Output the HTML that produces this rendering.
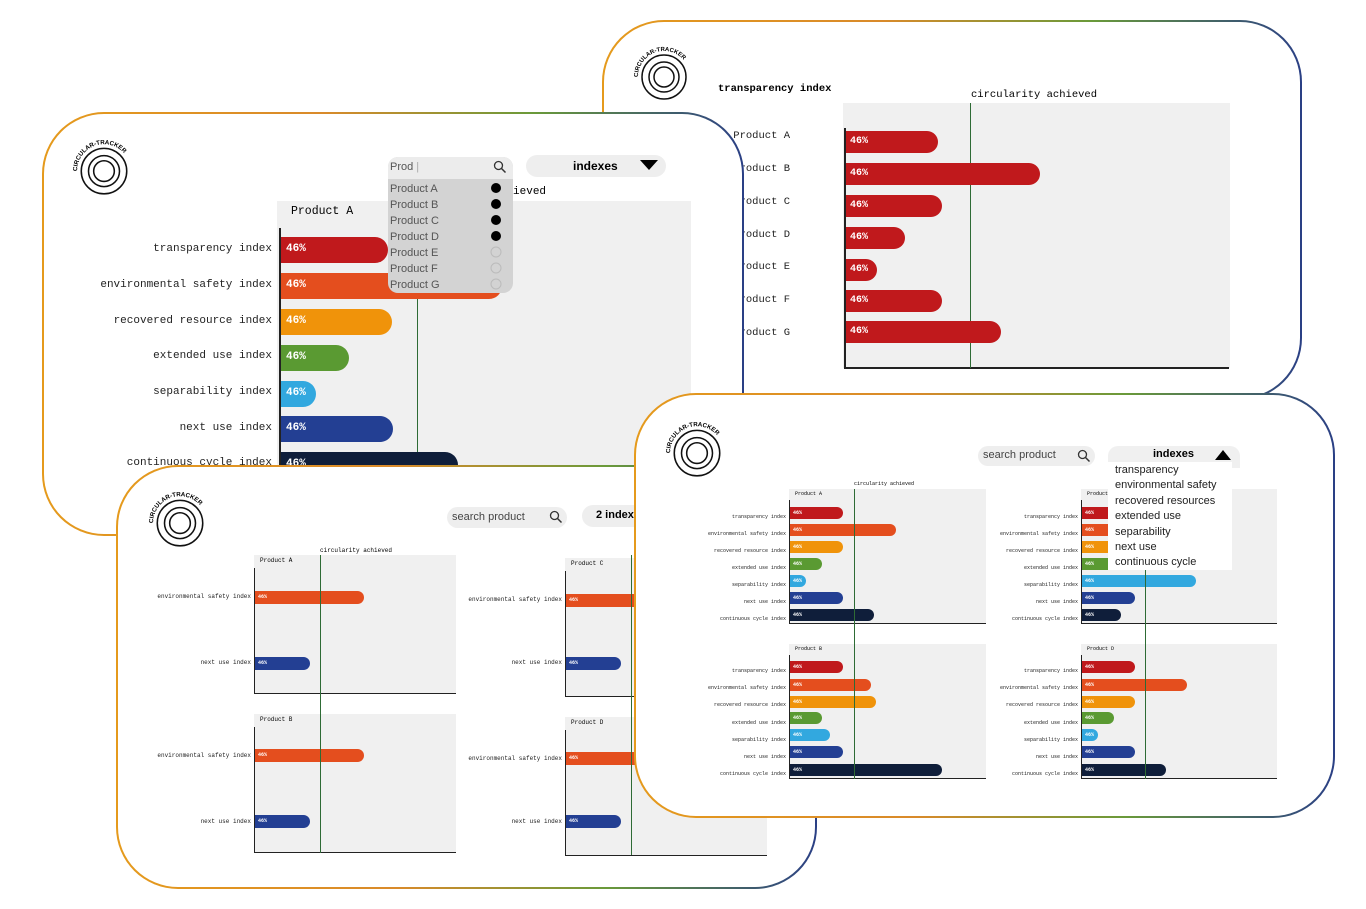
<!DOCTYPE html>
<html><head><meta charset="utf-8"><style>
body{margin:0;width:1366px;height:909px;background:#fff;position:relative;overflow:hidden;font-family:"Liberation Mono",monospace}
div,span,svg{position:absolute;box-sizing:border-box}
.card{border:2px solid transparent;border-radius:62px;background:linear-gradient(#fff,#fff) padding-box,linear-gradient(90deg,#e59a1c,#d98a2a 40%,#6a9a3a 70%,#2a3f85) border-box}
.pbg{background:#f0f0f0}
.b{color:#fff;font-weight:bold;white-space:nowrap}
.l{text-align:right;white-space:nowrap;color:#222}
.ax{background:#222}
.g{background:#2e6b35;width:1px}
.red{background:#c0191c}.org{background:#e44e1e}.amb{background:#f0930a}.grn{background:#5a9a32}.lb{background:#32a8df}.blu{background:#233f93}.nav{background:#0f1e3a}
.sans{font-family:"Liberation Sans",sans-serif}
</style></head><body>

<!-- CARD 1 top right -->
<div class="card" style="left:602px;top:20px;width:700px;height:380px"></div>
<svg style="left:634px;top:44px" width="60" height="60" viewBox="0 0 60 60"><defs><path id="a1" d="M4,33 A26,26 0 0 1 56,33"/></defs><circle cx="30" cy="33" r="22" fill="none" stroke="#111" stroke-width="1.5"/><circle cx="30" cy="33" r="15" fill="none" stroke="#111" stroke-width="1.5"/><circle cx="30" cy="33" r="10" fill="none" stroke="#111" stroke-width="1.5"/><text font-size="6" font-weight="bold" font-family="Liberation Sans"><textPath href="#a1">CIRCULAR-TRACKER</textPath></text></svg>
<div style="left:718px;top:83px;font-size:10.5px;font-weight:bold">transparency index</div>
<div style="left:971px;top:89px;font-size:10.5px">circularity achieved</div>
<div class="pbg" style="left:843px;top:103px;width:387px;height:265px"></div>
<div class="ax" style="left:844px;top:128px;width:2px;height:241px"></div>
<div class="ax" style="left:844px;top:367px;width:385px;height:2px"></div>
<div class="g" style="left:970px;top:103px;height:265px"></div>
<div class="l" style="left:700px;top:130px;width:90px;font-size:10.5px">Product A</div>
<div class="l" style="left:700px;top:163px;width:90px;font-size:10.5px">Product B</div>
<div class="l" style="left:700px;top:196px;width:90px;font-size:10.5px">Product C</div>
<div class="l" style="left:700px;top:229px;width:90px;font-size:10.5px">Product D</div>
<div class="l" style="left:700px;top:261px;width:90px;font-size:10.5px">Product E</div>
<div class="l" style="left:700px;top:294px;width:90px;font-size:10.5px">Product F</div>
<div class="l" style="left:700px;top:327px;width:90px;font-size:10.5px">Product G</div>
<div class="b red" style="left:846px;top:131px;width:92px;height:22px;border-radius:0 11px 11px 0;font-size:10px;padding:5px 4px">46%</div>
<div class="b red" style="left:846px;top:163px;width:194px;height:22px;border-radius:0 11px 11px 0;font-size:10px;padding:5px 4px">46%</div>
<div class="b red" style="left:846px;top:195px;width:96px;height:22px;border-radius:0 11px 11px 0;font-size:10px;padding:5px 4px">46%</div>
<div class="b red" style="left:846px;top:227px;width:59px;height:22px;border-radius:0 11px 11px 0;font-size:10px;padding:5px 4px">46%</div>
<div class="b red" style="left:846px;top:259px;width:31px;height:22px;border-radius:0 11px 11px 0;font-size:10px;padding:5px 4px">46%</div>
<div class="b red" style="left:846px;top:290px;width:96px;height:22px;border-radius:0 11px 11px 0;font-size:10px;padding:5px 4px">46%</div>
<div class="b red" style="left:846px;top:321px;width:155px;height:22px;border-radius:0 11px 11px 0;font-size:10px;padding:5px 4px">46%</div>

<!-- CARD 2 left -->
<div class="card" style="left:42px;top:112px;width:702px;height:424px"></div>
<svg style="left:73px;top:137px" width="62" height="62" viewBox="0 0 60 60"><defs><path id="a2" d="M4,33 A26,26 0 0 1 56,33"/></defs><circle cx="30" cy="33" r="22" fill="none" stroke="#111" stroke-width="1.5"/><circle cx="30" cy="33" r="15" fill="none" stroke="#111" stroke-width="1.5"/><circle cx="30" cy="33" r="10" fill="none" stroke="#111" stroke-width="1.5"/><text font-size="6" font-weight="bold" font-family="Liberation Sans"><textPath href="#a2">CIRCULAR-TRACKER</textPath></text></svg>
<div class="pbg" style="left:277px;top:201px;width:414px;height:264px"></div>
<div style="left:291px;top:205px;font-size:11.5px">Product A</div>
<div style="left:414px;top:186px;font-size:11px">circularity achieved</div>
<div class="ax" style="left:279px;top:228px;width:2px;height:240px"></div>
<div class="g" style="left:417px;top:290px;height:178px"></div>
<div class="l" style="left:60px;top:243px;width:212px;font-size:11px">transparency index</div>
<div class="l" style="left:60px;top:279px;width:212px;font-size:11px">environmental safety index</div>
<div class="l" style="left:60px;top:315px;width:212px;font-size:11px">recovered resource index</div>
<div class="l" style="left:60px;top:350px;width:212px;font-size:11px">extended use index</div>
<div class="l" style="left:60px;top:386px;width:212px;font-size:11px">separability index</div>
<div class="l" style="left:60px;top:422px;width:212px;font-size:11px">next use index</div>
<div class="l" style="left:60px;top:457px;width:212px;font-size:11px">continuous cycle index</div>
<div class="b red" style="left:281px;top:237px;width:107px;height:26px;border-radius:0 13px 13px 0;font-size:11px;padding:6px 5px">46%</div>
<div class="b org" style="left:281px;top:273px;width:221px;height:26px;border-radius:0 13px 13px 0;font-size:11px;padding:6px 5px">46%</div>
<div class="b amb" style="left:281px;top:309px;width:111px;height:26px;border-radius:0 13px 13px 0;font-size:11px;padding:6px 5px">46%</div>
<div class="b grn" style="left:281px;top:345px;width:68px;height:26px;border-radius:0 13px 13px 0;font-size:11px;padding:6px 5px">46%</div>
<div class="b lb" style="left:281px;top:381px;width:35px;height:26px;border-radius:0 13px 13px 0;font-size:11px;padding:6px 5px">46%</div>
<div class="b blu" style="left:281px;top:416px;width:112px;height:26px;border-radius:0 13px 13px 0;font-size:11px;padding:6px 5px">46%</div>
<div class="b nav" style="left:281px;top:452px;width:177px;height:26px;border-radius:0 13px 13px 0;font-size:11px;padding:6px 5px">46%</div>
<!-- dropdown -->
<div class="sans" style="left:388px;top:157px;width:125px;height:136px;background:#d3d3d3;border-radius:10px;font-size:11px;color:#555"></div>
<div class="sans" style="left:388px;top:157px;width:125px;height:22px;background:#ececec;border-radius:10px 10px 0 0;font-size:11px;color:#555;padding:4px 2px">Prod <span style="position:static;color:#aaa">|</span></div>
<svg style="left:493px;top:160px" width="14" height="14"><circle cx="5.5" cy="5.5" r="4" fill="none" stroke="#333" stroke-width="1.3"/><line x1="8.5" y1="8.5" x2="12.5" y2="12.5" stroke="#333" stroke-width="1.5"/></svg>
<div class="sans" style="left:390px;top:181px;font-size:11px;color:#555;line-height:16px">Product A<br>Product B<br>Product C<br>Product D<br>Product E<br>Product F<br>Product G</div>
<svg style="left:489px;top:181px" width="14" height="112"><circle cx="7" cy="7" r="5" fill="#000"/><circle cx="7" cy="23" r="5" fill="#000"/><circle cx="7" cy="39" r="5" fill="#000"/><circle cx="7" cy="55" r="5" fill="#000"/><circle cx="7" cy="71" r="5" fill="none" stroke="#bbb"/><circle cx="7" cy="87" r="5" fill="none" stroke="#bbb"/><circle cx="7" cy="103" r="5" fill="none" stroke="#bbb"/></svg>
<div class="sans" style="left:526px;top:155px;width:140px;height:22px;background:#eee;border-radius:11px;font-size:12px;font-weight:bold;padding:4px 0 0 47px">indexes</div>
<svg style="left:640px;top:160px" width="18" height="12"><polygon points="0,0 18,0 9,10" fill="#000"/></svg>

<!-- CARD 3 bottom left -->
<div class="card" style="left:116px;top:465px;width:701px;height:424px"></div>
<svg style="left:149px;top:489px" width="62" height="62" viewBox="0 0 60 60"><defs><path id="a3" d="M4,33 A26,26 0 0 1 56,33"/></defs><circle cx="30" cy="33" r="22" fill="none" stroke="#111" stroke-width="1.5"/><circle cx="30" cy="33" r="15" fill="none" stroke="#111" stroke-width="1.5"/><circle cx="30" cy="33" r="10" fill="none" stroke="#111" stroke-width="1.5"/><text font-size="6" font-weight="bold" font-family="Liberation Sans"><textPath href="#a3">CIRCULAR-TRACKER</textPath></text></svg>
<div class="sans" style="left:447px;top:507px;width:120px;height:21px;background:#eee;border-radius:11px;font-size:11px;color:#444;padding:4px 0 0 5px">search product</div>
<svg style="left:549px;top:510px" width="14" height="14"><circle cx="5.5" cy="5.5" r="4" fill="none" stroke="#333" stroke-width="1.3"/><line x1="8.5" y1="8.5" x2="12.5" y2="12.5" stroke="#333" stroke-width="1.5"/></svg>
<div class="sans" style="left:582px;top:505px;width:120px;height:22px;background:#eee;border-radius:11px;font-size:11px;font-weight:bold;padding:4px 0 0 14px">2 indexes</div>
<div style="left:320px;top:547px;font-size:6px">circularity achieved</div>
<!-- A -->
<div class="pbg" style="left:254px;top:555px;width:202px;height:138px"></div>
<div style="left:260px;top:557px;font-size:6px">Product A</div>
<div class="ax" style="left:254px;top:568px;width:1px;height:126px"></div>
<div class="ax" style="left:254px;top:693px;width:202px;height:1px"></div>
<div class="l" style="left:130px;top:593px;width:121px;font-size:6px">environmental safety index</div>
<div class="l" style="left:130px;top:659px;width:121px;font-size:6px">next use index</div>
<div class="b org" style="left:255px;top:591px;width:109px;height:13px;border-radius:0 7px 7px 0;font-size:5px;padding:3px 3px">46%</div>
<div class="b blu" style="left:255px;top:657px;width:55px;height:13px;border-radius:0 7px 7px 0;font-size:5px;padding:3px 3px">46%</div>
<!-- B -->
<div class="pbg" style="left:254px;top:714px;width:202px;height:138px"></div>
<div style="left:260px;top:716px;font-size:6px">Product B</div>
<div class="ax" style="left:254px;top:727px;width:1px;height:126px"></div>
<div class="ax" style="left:254px;top:852px;width:202px;height:1px"></div>
<div class="l" style="left:130px;top:752px;width:121px;font-size:6px">environmental safety index</div>
<div class="l" style="left:130px;top:818px;width:121px;font-size:6px">next use index</div>
<div class="b org" style="left:255px;top:749px;width:109px;height:13px;border-radius:0 7px 7px 0;font-size:5px;padding:3px 3px">46%</div>
<div class="b blu" style="left:255px;top:815px;width:55px;height:13px;border-radius:0 7px 7px 0;font-size:5px;padding:3px 3px">46%</div>
<div class="g" style="left:320px;top:555px;height:298px"></div>
<!-- C -->
<div class="pbg" style="left:565px;top:558px;width:202px;height:138px"></div>
<div style="left:571px;top:560px;font-size:6px">Product C</div>
<div class="ax" style="left:565px;top:571px;width:1px;height:126px"></div>
<div class="ax" style="left:565px;top:696px;width:202px;height:1px"></div>
<div class="l" style="left:440px;top:596px;width:122px;font-size:6px">environmental safety index</div>
<div class="l" style="left:440px;top:659px;width:122px;font-size:6px">next use index</div>
<div class="b org" style="left:566px;top:594px;width:109px;height:13px;border-radius:0 7px 7px 0;font-size:5px;padding:3px 3px">46%</div>
<div class="b blu" style="left:566px;top:657px;width:55px;height:13px;border-radius:0 7px 7px 0;font-size:5px;padding:3px 3px">46%</div>
<!-- D -->
<div class="pbg" style="left:565px;top:717px;width:202px;height:138px"></div>
<div style="left:571px;top:719px;font-size:6px">Product D</div>
<div class="ax" style="left:565px;top:730px;width:1px;height:126px"></div>
<div class="ax" style="left:565px;top:855px;width:202px;height:1px"></div>
<div class="l" style="left:440px;top:755px;width:122px;font-size:6px">environmental safety index</div>
<div class="l" style="left:440px;top:818px;width:122px;font-size:6px">next use index</div>
<div class="b org" style="left:566px;top:752px;width:109px;height:13px;border-radius:0 7px 7px 0;font-size:5px;padding:3px 3px">46%</div>
<div class="b blu" style="left:566px;top:815px;width:55px;height:13px;border-radius:0 7px 7px 0;font-size:5px;padding:3px 3px">46%</div>
<div class="g" style="left:631px;top:555px;height:300px"></div>

<!-- CARD 4 front right -->
<div class="card" style="left:634px;top:393px;width:701px;height:425px"></div>
<svg style="left:666px;top:419px" width="62" height="62" viewBox="0 0 60 60"><defs><path id="a4" d="M4,33 A26,26 0 0 1 56,33"/></defs><circle cx="30" cy="33" r="22" fill="none" stroke="#111" stroke-width="1.5"/><circle cx="30" cy="33" r="15" fill="none" stroke="#111" stroke-width="1.5"/><circle cx="30" cy="33" r="10" fill="none" stroke="#111" stroke-width="1.5"/><text font-size="6" font-weight="bold" font-family="Liberation Sans"><textPath href="#a4">CIRCULAR-TRACKER</textPath></text></svg>
<div class="sans" style="left:978px;top:446px;width:117px;height:20px;background:#eee;border-radius:10px;font-size:11px;color:#444;padding:3px 0 0 5px">search product</div>
<svg style="left:1077px;top:449px" width="14" height="14"><circle cx="5.5" cy="5.5" r="4" fill="none" stroke="#333" stroke-width="1.3"/><line x1="8.5" y1="8.5" x2="12.5" y2="12.5" stroke="#333" stroke-width="1.5"/></svg>
<div style="left:854px;top:481px;font-size:5px">circularity achieved</div>
<!-- plot A -->
<div class="pbg" style="left:789px;top:489px;width:197px;height:135px"></div>
<div style="left:795px;top:491px;font-size:5px">Product A</div>
<div class="ax" style="left:789px;top:500px;width:1px;height:124px"></div>
<div class="ax" style="left:789px;top:623px;width:197px;height:1px"></div>
<div class="l" style="left:660px;top:509px;width:126px;font-size:5px;line-height:17px">transparency index<br>environmental safety index<br>recovered resource index<br>extended use index<br>separability index<br>next use index<br>continuous cycle index</div>
<div class="b red" style="left:790px;top:507px;width:53px;height:12px;border-radius:0 6px 6px 0;font-size:5px;padding:3px 3px">46%</div>
<div class="b org" style="left:790px;top:524px;width:106px;height:12px;border-radius:0 6px 6px 0;font-size:5px;padding:3px 3px">46%</div>
<div class="b amb" style="left:790px;top:541px;width:53px;height:12px;border-radius:0 6px 6px 0;font-size:5px;padding:3px 3px">46%</div>
<div class="b grn" style="left:790px;top:558px;width:32px;height:12px;border-radius:0 6px 6px 0;font-size:5px;padding:3px 3px">46%</div>
<div class="b lb" style="left:790px;top:575px;width:16px;height:12px;border-radius:0 6px 6px 0;font-size:5px;padding:3px 3px">46%</div>
<div class="b blu" style="left:790px;top:592px;width:53px;height:12px;border-radius:0 6px 6px 0;font-size:5px;padding:3px 3px">46%</div>
<div class="b nav" style="left:790px;top:609px;width:84px;height:12px;border-radius:0 6px 6px 0;font-size:5px;padding:3px 3px">46%</div>
<!-- plot B -->
<div class="pbg" style="left:789px;top:644px;width:197px;height:135px"></div>
<div style="left:795px;top:646px;font-size:5px">Product B</div>
<div class="ax" style="left:789px;top:655px;width:1px;height:124px"></div>
<div class="ax" style="left:789px;top:778px;width:197px;height:1px"></div>
<div class="l" style="left:660px;top:663px;width:126px;font-size:5px;line-height:17.2px">transparency index<br>environmental safety index<br>recovered resource index<br>extended use index<br>separability index<br>next use index<br>continuous cycle index</div>
<div class="b red" style="left:790px;top:661px;width:53px;height:12px;border-radius:0 6px 6px 0;font-size:5px;padding:3px 3px">46%</div>
<div class="b org" style="left:790px;top:679px;width:81px;height:12px;border-radius:0 6px 6px 0;font-size:5px;padding:3px 3px">46%</div>
<div class="b amb" style="left:790px;top:696px;width:86px;height:12px;border-radius:0 6px 6px 0;font-size:5px;padding:3px 3px">46%</div>
<div class="b grn" style="left:790px;top:712px;width:32px;height:12px;border-radius:0 6px 6px 0;font-size:5px;padding:3px 3px">46%</div>
<div class="b lb" style="left:790px;top:729px;width:40px;height:12px;border-radius:0 6px 6px 0;font-size:5px;padding:3px 3px">46%</div>
<div class="b blu" style="left:790px;top:746px;width:53px;height:12px;border-radius:0 6px 6px 0;font-size:5px;padding:3px 3px">46%</div>
<div class="b nav" style="left:790px;top:764px;width:152px;height:12px;border-radius:0 6px 6px 0;font-size:5px;padding:3px 3px">46%</div>
<div class="g" style="left:854px;top:489px;height:290px"></div>
<!-- plot C -->
<div class="pbg" style="left:1081px;top:489px;width:196px;height:135px"></div>
<div style="left:1087px;top:491px;font-size:5px">Product C</div>
<div class="ax" style="left:1081px;top:500px;width:1px;height:124px"></div>
<div class="ax" style="left:1081px;top:623px;width:196px;height:1px"></div>
<div class="l" style="left:950px;top:509px;width:128px;font-size:5px;line-height:17px">transparency index<br>environmental safety index<br>recovered resource index<br>extended use index<br>separability index<br>next use index<br>continuous cycle index</div>
<div class="b red" style="left:1082px;top:507px;width:53px;height:12px;border-radius:0 6px 6px 0;font-size:5px;padding:3px 3px">46%</div>
<div class="b org" style="left:1082px;top:524px;width:53px;height:12px;border-radius:0 6px 6px 0;font-size:5px;padding:3px 3px">46%</div>
<div class="b amb" style="left:1082px;top:541px;width:53px;height:12px;border-radius:0 6px 6px 0;font-size:5px;padding:3px 3px">46%</div>
<div class="b grn" style="left:1082px;top:558px;width:32px;height:12px;border-radius:0 6px 6px 0;font-size:5px;padding:3px 3px">46%</div>
<div class="b lb" style="left:1082px;top:575px;width:114px;height:12px;border-radius:0 6px 6px 0;font-size:5px;padding:3px 3px">46%</div>
<div class="b blu" style="left:1082px;top:592px;width:53px;height:12px;border-radius:0 6px 6px 0;font-size:5px;padding:3px 3px">46%</div>
<div class="b nav" style="left:1082px;top:609px;width:39px;height:12px;border-radius:0 6px 6px 0;font-size:5px;padding:3px 3px">46%</div>
<!-- plot D -->
<div class="pbg" style="left:1081px;top:644px;width:196px;height:135px"></div>
<div style="left:1087px;top:646px;font-size:5px">Product D</div>
<div class="ax" style="left:1081px;top:655px;width:1px;height:124px"></div>
<div class="ax" style="left:1081px;top:778px;width:196px;height:1px"></div>
<div class="l" style="left:950px;top:663px;width:128px;font-size:5px;line-height:17.2px">transparency index<br>environmental safety index<br>recovered resource index<br>extended use index<br>separability index<br>next use index<br>continuous cycle index</div>
<div class="b red" style="left:1082px;top:661px;width:53px;height:12px;border-radius:0 6px 6px 0;font-size:5px;padding:3px 3px">46%</div>
<div class="b org" style="left:1082px;top:679px;width:105px;height:12px;border-radius:0 6px 6px 0;font-size:5px;padding:3px 3px">46%</div>
<div class="b amb" style="left:1082px;top:696px;width:53px;height:12px;border-radius:0 6px 6px 0;font-size:5px;padding:3px 3px">46%</div>
<div class="b grn" style="left:1082px;top:712px;width:32px;height:12px;border-radius:0 6px 6px 0;font-size:5px;padding:3px 3px">46%</div>
<div class="b lb" style="left:1082px;top:729px;width:16px;height:12px;border-radius:0 6px 6px 0;font-size:5px;padding:3px 3px">46%</div>
<div class="b blu" style="left:1082px;top:746px;width:53px;height:12px;border-radius:0 6px 6px 0;font-size:5px;padding:3px 3px">46%</div>
<div class="b nav" style="left:1082px;top:764px;width:84px;height:12px;border-radius:0 6px 6px 0;font-size:5px;padding:3px 3px">46%</div>
<div class="g" style="left:1145px;top:570px;height:209px"></div>
<!-- indexes dropdown -->
<div class="sans" style="left:1108px;top:446px;width:132px;height:22px;background:#f0f0f0;border-radius:10px 10px 0 0;font-size:11px;font-weight:bold;padding:2px 0 0 45px">indexes</div>
<svg style="left:1215px;top:450px" width="16" height="10"><polygon points="0,10 16,10 8,0" fill="#000"/></svg>
<div class="sans" style="left:1108px;top:462px;width:124px;height:108px;background:#fff;font-size:11px;color:#222;padding:1px 0 0 7px;line-height:15.4px">transparency<br>environmental safety<br>recovered resources<br>extended use<br>separability<br>next use<br>continuous cycle</div>
</body></html>
